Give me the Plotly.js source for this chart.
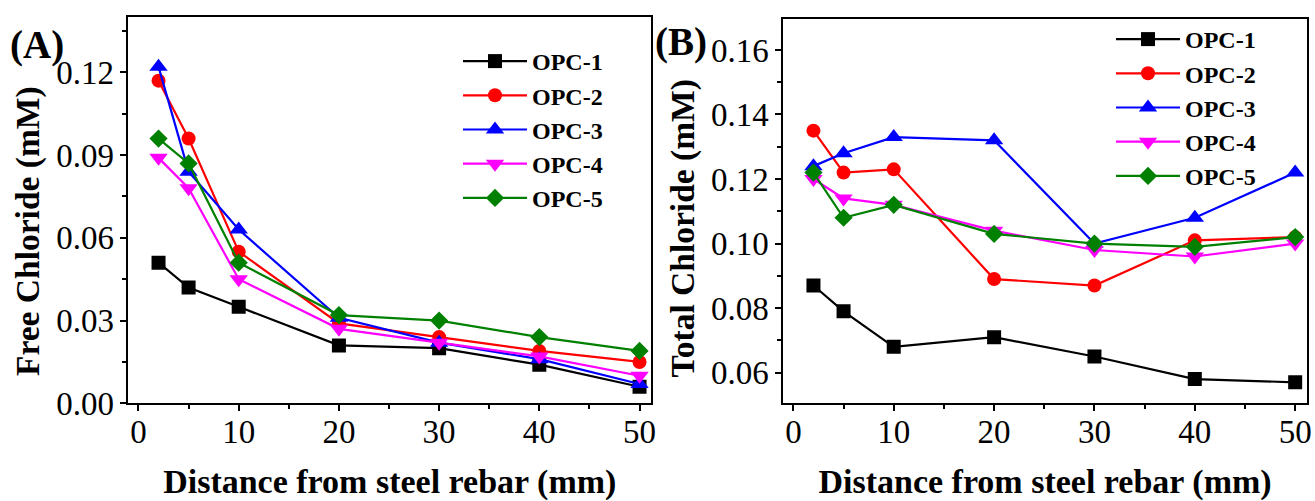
<!DOCTYPE html>
<html>
<head>
<meta charset="utf-8">
<script src="https://cdn.plot.ly/plotly-3.0.1.min.js"></script>
<style>html,body{margin:0;padding:0;background:#fff;}#chart{width:1315px;height:501px;}</style>
</head>
<body>
<div id="chart"></div>
<script>
// Distance from steel rebar (mm)
const distance = [2, 5, 10, 20, 30, 40, 50];
const seriesNames = ['OPC-1', 'OPC-2', 'OPC-3', 'OPC-4', 'OPC-5'];

// (A) Free chloride (mM)
const freeOPC1 = [0.051, 0.042, 0.035, 0.021, 0.020, 0.014, 0.006];
const freeOPC2 = [0.117, 0.096, 0.055, 0.029, 0.024, 0.019, 0.015];
const freeOPC3 = [0.122, 0.084, 0.063, 0.031, 0.022, 0.016, 0.007];
const freeOPC4 = [0.089, 0.078, 0.045, 0.027, 0.022, 0.017, 0.010];
const freeOPC5 = [0.096, 0.087, 0.051, 0.032, 0.030, 0.024, 0.019];

// (B) Total chloride (mM)
const totalOPC1 = [0.087, 0.079, 0.068, 0.071, 0.065, 0.058, 0.057];
const totalOPC2 = [0.135, 0.122, 0.123, 0.089, 0.087, 0.101, 0.102];
const totalOPC3 = [0.124, 0.128, 0.133, 0.132, 0.100, 0.108, 0.122];
const totalOPC4 = [0.120, 0.114, 0.112, 0.104, 0.098, 0.096, 0.100];
const totalOPC5 = [0.122, 0.108, 0.112, 0.103, 0.100, 0.099, 0.102];

const freeData = [freeOPC1, freeOPC2, freeOPC3, freeOPC4, freeOPC5];
const totalData = [totalOPC1, totalOPC2, totalOPC3, totalOPC4, totalOPC5];

const colors = ['#000000', '#ff0000', '#0000ff', '#ff00ff', '#008000'];
const symbols = ['square', 'circle', 'triangle-up', 'triangle-down', 'diamond'];
const sizes = [14, 14, 16, 16, 14];

const FONT = 'Liberation Serif';

const traces = [];
seriesNames.forEach((name, i) => {
  traces.push({
    x: distance, y: freeData[i], name: name, type: 'scatter', mode: 'lines+markers',
    xaxis: 'x', yaxis: 'y', legend: 'legend',
    line: {color: colors[i], width: 2.2},
    marker: {symbol: symbols[i], size: sizes[i], color: colors[i]}
  });
});
seriesNames.forEach((name, i) => {
  traces.push({
    x: distance, y: totalData[i], name: name, type: 'scatter', mode: 'lines+markers',
    xaxis: 'x2', yaxis: 'y2', legend: 'legend2',
    line: {color: colors[i], width: 2.2},
    marker: {symbol: symbols[i], size: sizes[i], color: colors[i]}
  });
});

const tickFont = {family: FONT, size: 33, color: '#000'};
const xTitleFont = {family: FONT, size: 34, color: '#000', weight: 'bold'};
const yTitleFont = {family: FONT, size: 33.5, color: '#000', weight: 'bold'};

function xAxis(domain, anchor) {
  return {
    domain: domain, anchor: anchor, range: [-1, 51.15],
    showline: true, mirror: true, linecolor: '#000', linewidth: 2,
    ticks: 'outside', ticklen: 6, tickwidth: 2, tickcolor: '#000',
    dtick: 10, tick0: 0, showgrid: false, zeroline: false,
    minor: {dtick: 5, ticks: 'outside', ticklen: 4, tickwidth: 2, tickcolor: '#000', showgrid: false},
    tickfont: tickFont, automargin: false, ticklabelstandoff: -8,
    title: {text: 'Distance from steel rebar (mm)', font: xTitleFont, standoff: 26}
  };
}
function yAxis(domain, anchor, range, dtick, minor) {
  return {
    domain: domain, anchor: anchor, range: range,
    showline: true, mirror: true, linecolor: '#000', linewidth: 2,
    ticks: 'outside', ticklen: 6, tickwidth: 2, tickcolor: '#000',
    dtick: dtick, tick0: 0, tickformat: '.2f', showgrid: false, zeroline: false,
    minor: {dtick: minor, ticks: 'outside', ticklen: 4, tickwidth: 2, tickcolor: '#000', showgrid: false},
    tickfont: tickFont, automargin: false
  };
}

const legendBase = {
  font: {family: FONT, size: 24, color: '#000', weight: 'bold'},
  bgcolor: 'rgba(0,0,0,0)', borderwidth: 0, itemwidth: 64,
  xanchor: 'left', yanchor: 'top', tracegroupgap: 0
};

const panelFont = {family: FONT, size: 39, color: '#000', weight: 'bold'};

const layout = {
  width: 1315, height: 501,
  margin: {l: 0, r: 0, t: 0, b: 0},
  paper_bgcolor: '#fff', plot_bgcolor: '#fff',
  showlegend: true,
  xaxis: xAxis([0.0977, 0.4951], 'y'),
  yaxis: yAxis([0.195, 0.9667], 'x', [0, 0.1402], 0.03, 0.015),
  xaxis2: xAxis([0.5957, 0.9937], 'y2'),
  yaxis2: yAxis([0.195, 0.9621], 'x2', [0.0505, 0.1696], 0.02, 0.01),
  legend: Object.assign({}, legendBase, {x: 458 / 1315, y: 1 - 39 / 501}),
  legend2: Object.assign({}, legendBase, {x: 1111 / 1315, y: 1 - 17 / 501}),
  annotations: [
    {text: 'Free Chloride (mM)', xref: 'paper', yref: 'paper', x: 28 / 1315, y: 1 - 231 / 501,
     xanchor: 'center', yanchor: 'middle', textangle: -90, showarrow: false, font: yTitleFont},
    {text: 'Total Chloride (mM)', xref: 'paper', yref: 'paper', x: 683 / 1315, y: 1 - 228.5 / 501,
     xanchor: 'center', yanchor: 'middle', textangle: -90, showarrow: false, font: yTitleFont},
    {text: '(A)', xref: 'paper', yref: 'paper', x: 8 / 1315, y: 1 - 45 / 501,
     xanchor: 'left', yanchor: 'middle', showarrow: false, font: panelFont},
    {text: '(B)', xref: 'paper', yref: 'paper', x: 653 / 1315, y: 1 - 42 / 501,
     xanchor: 'left', yanchor: 'middle', showarrow: false, font: panelFont}
  ]
};

Plotly.newPlot('chart', traces, layout, {displayModeBar: false, staticPlot: true});
</script>
</body>
</html>
